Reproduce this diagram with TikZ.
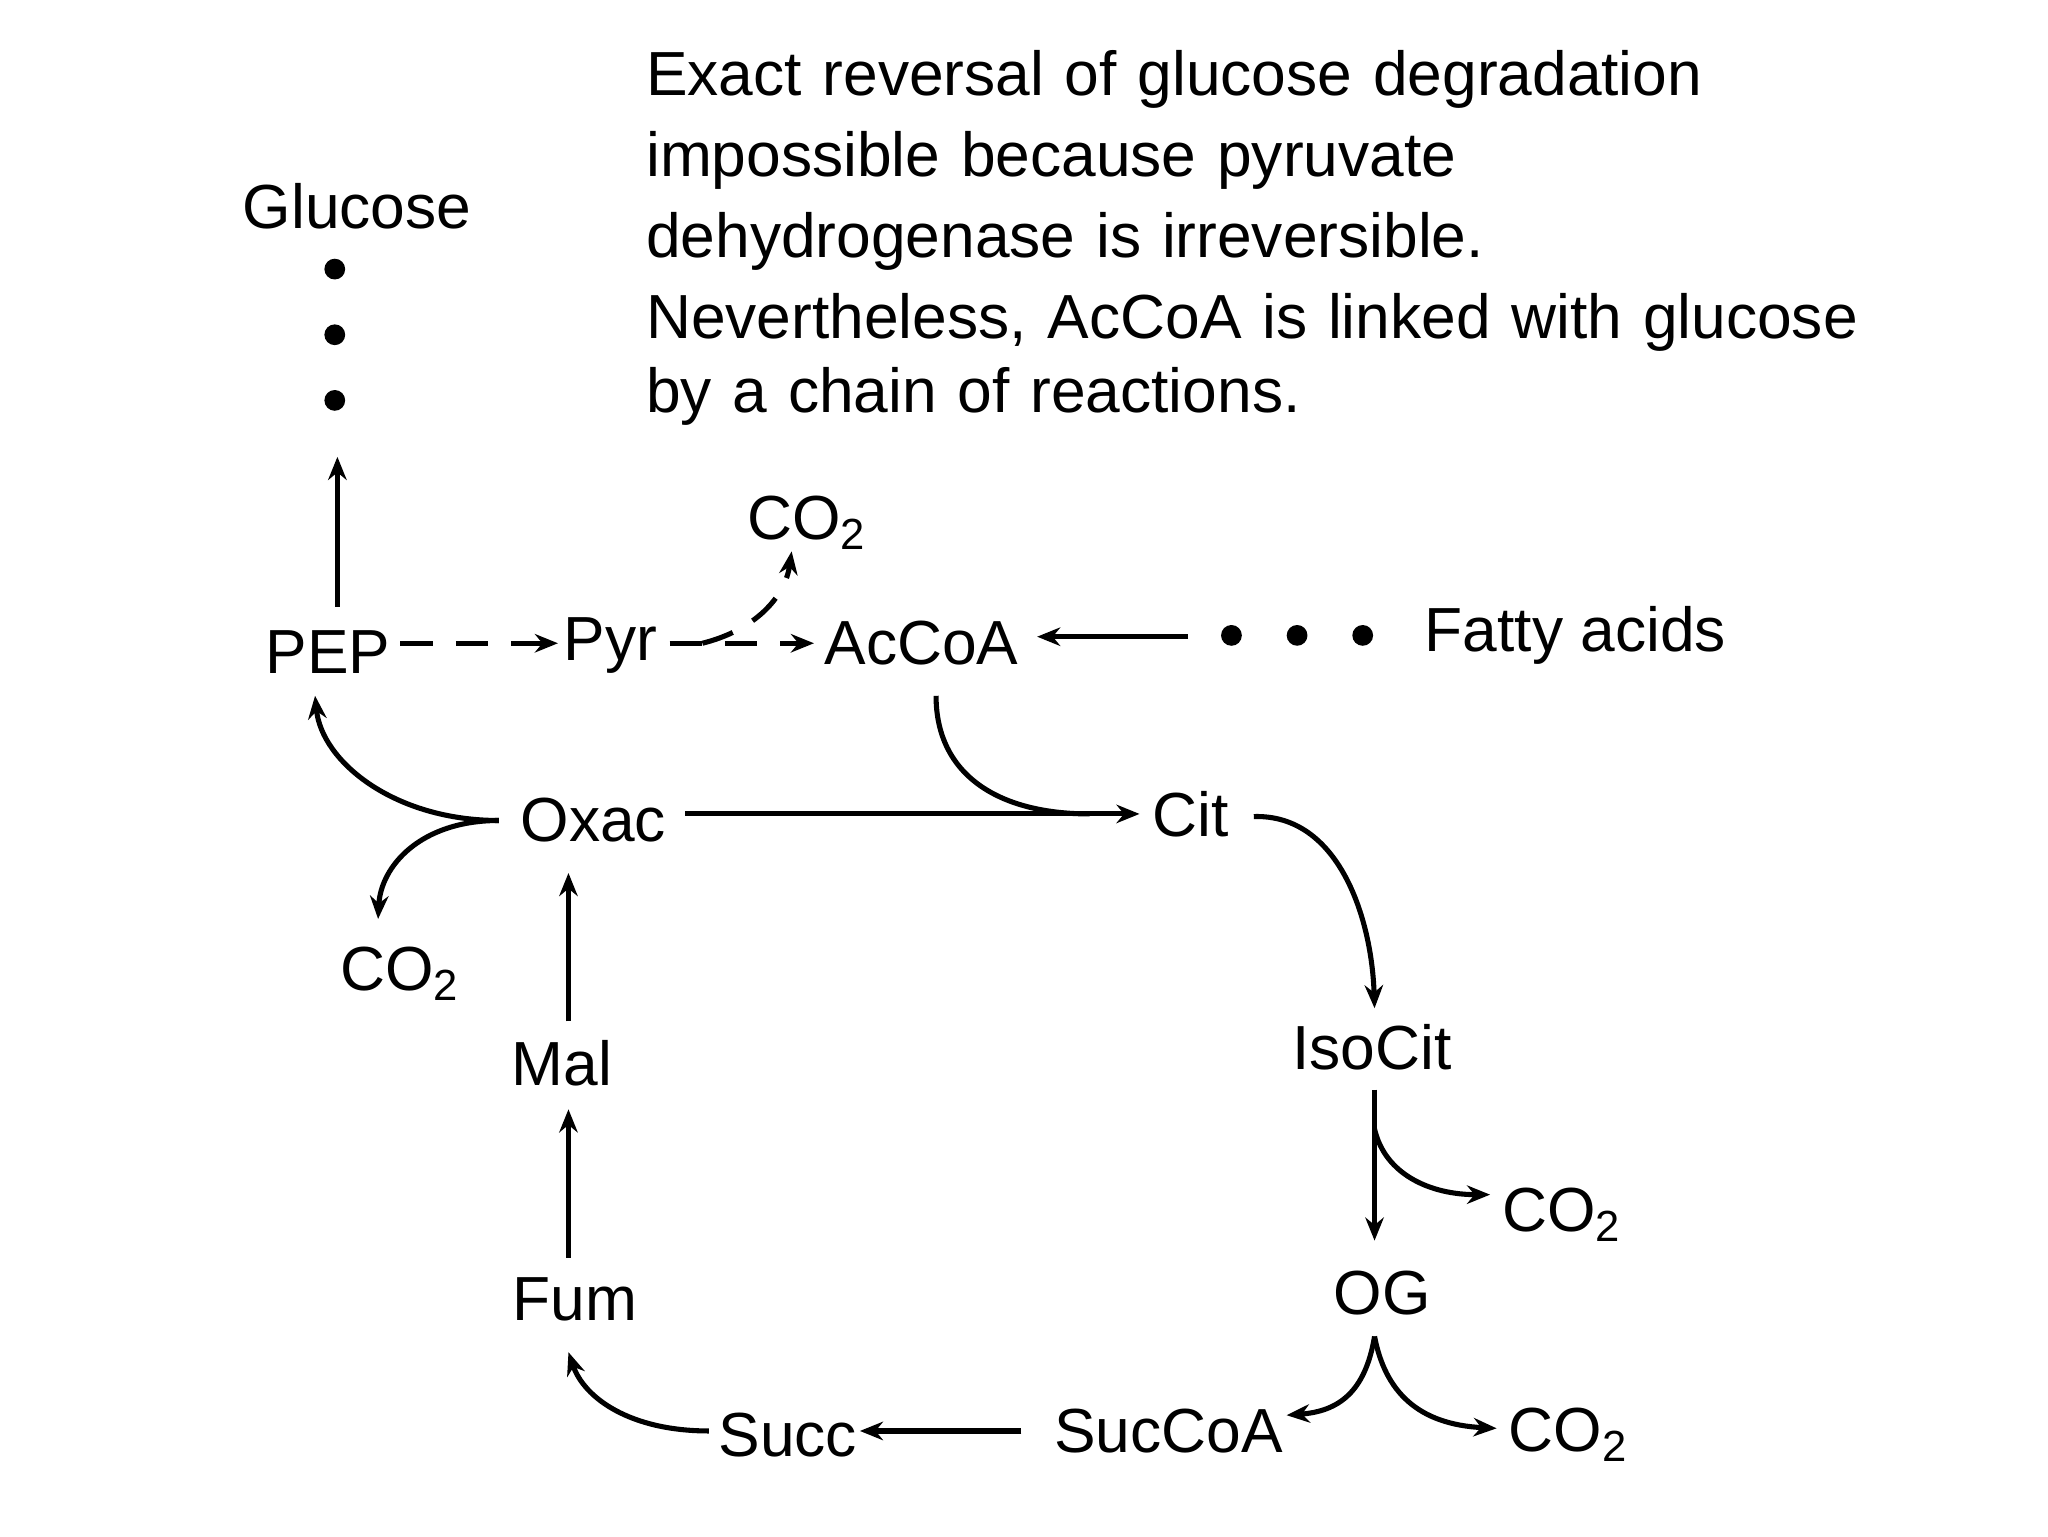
\documentclass[tikz,border=0pt]{standalone}
\usepackage{fontspec}
\setmainfont{Liberation Sans}
\usetikzlibrary{arrows.meta}
\begin{document}
\begin{tikzpicture}[x=1cm,y=1cm,
  lab/.style={font=\fontsize{13.5}{16}\selectfont, inner sep=1pt},
  arr/.style={line width=1.1pt,-{Stealth[length=5pt,width=4pt]}},
  dsh/.style={arr,dash pattern=on 7pt off 5pt},
  dot/.style={circle,fill=black,inner sep=0pt,minimum size=4.5pt}]
\useasboundingbox (0,0) rectangle (15.6,11.7);
\def\P(#1,#2){(#1/100,{(1170-#2)/100})}
\node[lab,anchor=north west,align=left,text width=11cm] (txt) at (4.88,11.36)
 {\fontsize{13.5}{17.6}\selectfont Exact reversal of glucose degradation\\impossible because pyruvate\\dehydrogenase is irreversible.\\Nevertheless, AcCoA is linked with glucose\\by a chain of reactions.};
\node[lab] (glc) at (2.72,{(1170-157)/100}) {Glucose};
\node[dot] (d1) at (2.55,{(1170-205)/100}) {};
\node[dot] (d2) at (2.55,{(1170-255)/100}) {};
\node[dot] (d3) at (2.55,{(1170-305)/100}) {};
\node[lab] (pep) at (2.50,{(1170-497)/100}) {PEP};
\node[lab] (pyr) at (4.65,{(1170-492)/100}) {Pyr};
\node[lab] (acc) at (7.02,{(1170-490)/100}) {AcCoA};
\node[lab] (co2a) at (6.15,{(1170-398)/100}) {CO\textsubscript{2}};
\node[lab] (fa) at (12.0,{(1170-484)/100}) {Fatty acids};
\node[dot] (f1) at (9.38,{(1170-484)/100}) {};
\node[dot] (f2) at (9.88,{(1170-484)/100}) {};
\node[dot] (f3) at (10.38,{(1170-484)/100}) {};
\node[lab] (oxac) at (4.52,{(1170-625)/100}) {Oxac};
\node[lab] (cit) at (9.07,{(1170-620)/100}) {Cit};
\node[lab] (co2b) at (3.05,{(1170-742)/100}) {CO\textsubscript{2}};
\node[lab] (mal) at (4.28,{(1170-810)/100}) {Mal};
\node[lab] (fum) at (4.38,{(1170-990)/100}) {Fum};
\node[lab] (iso) at (10.45,{(1170-798)/100}) {IsoCit};
\node[lab] (co2c) at (11.90,{(1170-925)/100}) {CO\textsubscript{2}};
\node[lab] (og) at (10.53,{(1170-985)/100}) {OG};
\node[lab] (co2d) at (11.95,{(1170-1093)/100}) {CO\textsubscript{2}};
\node[lab] (scoa) at (8.90,{(1170-1090)/100}) {SucCoA};
\node[lab] (succ) at (6.00,{(1170-1093)/100}) {Succ};
\coordinate (j1) at (8.30,{(1170-620)/100});
\coordinate (j2) at (3.80,{(1170-625)/100});
\coordinate (j3) at (10.47,{(1170-1018)/100});
% arrows
\draw[arr] (2.57,{(1170-462)/100}) -- (2.57,{(1170-348)/100});
\draw[dsh] (3.05,{(1170-490)/100}) -- (4.25,{(1170-490)/100});
\draw[dsh] (5.10,{(1170-490)/100}) -- (6.20,{(1170-490)/100});
\draw[dsh] (5.35,{(1170-490)/100}) .. controls (5.75,{(1170-480)/100}) and (5.98,{(1170-455)/100}) .. (6.03,{(1170-420)/100});
\draw[arr] (9.05,{(1170-485)/100}) -- (7.90,{(1170-485)/100});
\draw[arr] (5.22,{(1170-620)/100}) -- (8.68,{(1170-620)/100});
\draw[line width=1.1pt] (7.13,{(1170-530)/100}) .. controls (7.13,{(1170-590)/100}) and (7.60,{(1170-620)/100}) .. (j1);
\draw[arr] (j2) .. controls (3.00,{(1170-625)/100}) and (2.45,{(1170-580)/100}) .. (2.40,{(1170-530)/100});
\draw[arr] (j2) .. controls (3.20,{(1170-625)/100}) and (2.90,{(1170-660)/100}) .. (2.88,{(1170-700)/100});
\draw[arr] (4.33,{(1170-778)/100}) -- (4.33,{(1170-665)/100});
\draw[arr] (4.33,{(1170-958)/100}) -- (4.33,{(1170-845)/100});
\draw[arr] (9.55,{(1170-622)/100}) .. controls (10.20,{(1170-620)/100}) and (10.45,{(1170-700)/100}) .. (10.47,{(1170-768)/100});
\draw[arr] (10.47,{(1170-830)/100}) -- (10.47,{(1170-945)/100});
\draw[arr] (10.47,{(1170-860)/100}) .. controls (10.55,{(1170-895)/100}) and (10.90,{(1170-910)/100}) .. (11.35,{(1170-910)/100});
\draw[arr] (j3) .. controls (10.40,{(1170-1060)/100}) and (10.20,{(1170-1075)/100}) .. (9.80,{(1170-1078)/100});
\draw[arr] (j3) .. controls (10.55,{(1170-1060)/100}) and (10.80,{(1170-1085)/100}) .. (11.40,{(1170-1088)/100});
\draw[arr] (7.78,{(1170-1090)/100}) -- (6.55,{(1170-1090)/100});
\draw[arr] (5.40,{(1170-1090)/100}) .. controls (4.80,{(1170-1090)/100}) and (4.45,{(1170-1065)/100}) .. (4.33,{(1170-1030)/100});
\end{tikzpicture}
\end{document}
